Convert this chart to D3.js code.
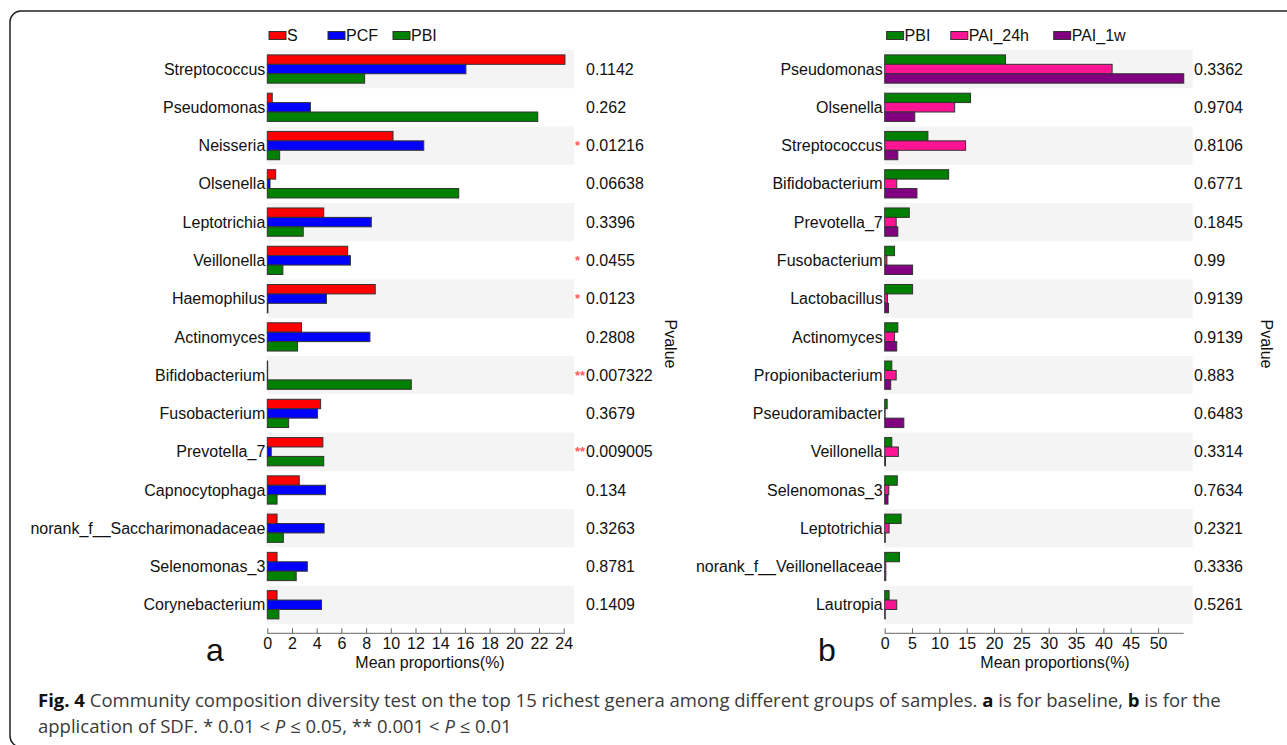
<!DOCTYPE html>
<html>
<head>
<meta charset="utf-8">
<script src="https://cdn.jsdelivr.net/npm/d3@7"></script>
<style>
  body { margin: 0; background: #fff; }
  svg { display: block; }
</style>
</head>
<body>
<svg id="fig" width="1287" height="745"></svg>
<script>
// ---- Panel a: baseline groups ----
const generaA = ["Streptococcus","Pseudomonas","Neisseria","Olsenella","Leptotrichia","Veillonella",
  "Haemophilus","Actinomyces","Bifidobacterium","Fusobacterium","Prevotella_7","Capnocytophaga",
  "norank_f__Saccharimonadaceae","Selenomonas_3","Corynebacterium"];
const seriesA = ["S", "PCF", "PBI"];
const valS    = [24.1, 0.4, 10.18, 0.68, 4.57, 6.51, 8.74, 2.77, 0.03, 4.32, 4.5, 2.59, 0.79, 0.79, 0.79];
const valPCF  = [16.08, 3.49, 12.67, 0.22, 8.42, 6.73, 4.79, 8.31, 0.03, 4.07, 0.32, 4.71, 4.6, 3.24, 4.39];
const valPBIa = [7.88, 21.9, 1.0, 15.5, 2.91, 1.26, 0.05, 2.45, 11.66, 1.73, 4.57, 0.79, 1.3, 2.34, 0.94];
const pvalA   = ["0.1142","0.262","0.01216","0.06638","0.3396","0.0455","0.0123","0.2808",
  "0.007322","0.3679","0.009005","0.134","0.3263","0.8781","0.1409"];
const starsA  = ["","","*","","","*","*","","**","","**","","","",""];
const ticksA  = [0,2,4,6,8,10,12,14,16,18,20,22,24];

// ---- Panel b: after SDF application ----
const generaB = ["Pseudomonas","Olsenella","Streptococcus","Bifidobacterium","Prevotella_7","Fusobacterium",
  "Lactobacillus","Actinomyces","Propionibacterium","Pseudoramibacter","Veillonella","Selenomonas_3",
  "Leptotrichia","norank_f__Veillonellaceae","Lautropia"];
const seriesB = ["PBI", "PAI_24h", "PAI_1w"];
const valPBIb = [22.1, 15.7, 7.9, 11.7, 4.5, 1.8, 5.1, 2.4, 1.3, 0.45, 1.3, 2.3, 3.0, 2.7, 0.8];
const val24h  = [41.6, 12.8, 14.8, 2.2, 2.1, 0.4, 0.5, 1.8, 2.1, 0.08, 2.5, 0.75, 0.8, 0.2, 2.2];
const val1w   = [54.7, 5.5, 2.4, 5.9, 2.4, 5.1, 0.7, 2.2, 1.1, 3.5, 0.15, 0.6, 0.1, 0.2, 0.1];
const pvalB   = ["0.3362","0.9704","0.8106","0.6771","0.1845","0.99","0.9139","0.9139",
  "0.883","0.6483","0.3314","0.7634","0.2321","0.3336","0.5261"];
const starsB  = ["","","","","","","","","","","","","","",""];
const ticksB  = [0,5,10,15,20,25,30,35,40,45,50];

const colorsA = ["#ff0000", "#0000ff", "#008000"];
const colorsB = ["#008000", "#ff1493", "#800080"];

const svg = d3.select("#fig");
const FONT = "'Liberation Sans', Arial, sans-serif";

// rounded frame around the figure (open on the right)
svg.append("rect")
  .attr("x", 10).attr("y", 11).attr("width", 1320).attr("height", 736).attr("rx", 11)
  .attr("fill", "none").attr("stroke", "#222").attr("stroke-width", 1.5);

function panel(opt) {
  const g = svg.append("g");
  const rows = opt.genera.map((name, i) => ({
    name, vals: opt.values.map(v => v[i]), p: opt.pvals[i], star: opt.stars[i], i
  }));
  const maxV = d3.max(opt.values.flat());

  const x = d3.scaleLinear().domain([0, opt.tickMax]).range([opt.x0, opt.x0 + opt.tickMax * opt.pxPerUnit]);
  const y = d3.scaleBand().domain(opt.genera).range([49.9, 623.9]);
  const yi = d3.scaleBand().domain(opt.series).range([5, y.bandwidth() - 5]);
  const bandRight = x(maxV) + 9;

  // alternating row shading
  g.selectAll("rect.band").data(rows.filter(r => r.i % 2 === 0)).join("rect")
    .attr("class", "band")
    .attr("x", x(0)).attr("width", bandRight - x(0))
    .attr("y", r => y(r.name)).attr("height", y.bandwidth())
    .attr("fill", "#f4f4f4");

  // grouped horizontal bars
  const rg = g.selectAll("g.row").data(rows).join("g")
    .attr("class", "row")
    .attr("transform", r => `translate(0,${y(r.name)})`);
  rg.selectAll("rect").data(r => r.vals.map((v, k) => ({ v, k }))).join("rect")
    .attr("x", x(0))
    .attr("y", d => yi(opt.series[d.k]))
    .attr("width", d => x(d.v) - x(0))
    .attr("height", yi.bandwidth())
    .attr("fill", d => opt.colors[d.k])
    .attr("stroke", "#333").attr("stroke-width", 1);

  // genus labels
  g.selectAll("text.genus").data(rows).join("text")
    .attr("class", "genus")
    .attr("x", x(0) - 2).attr("y", r => y(r.name) + y.bandwidth() / 2)
    .attr("dy", "0.35em").attr("text-anchor", "end")
    .style("font", `16px ${FONT}`).attr("fill", "#111")
    .text(r => r.name);

  // p-values and significance marks
  g.selectAll("text.pv").data(rows).join("text")
    .attr("class", "pv")
    .attr("x", opt.pvX).attr("y", r => y(r.name) + y.bandwidth() / 2)
    .attr("dy", "0.35em")
    .style("font", `16px ${FONT}`).attr("fill", "#111")
    .text(r => r.p);
  g.selectAll("text.star").data(rows.filter(r => r.star)).join("text")
    .attr("class", "star")
    .attr("x", opt.pvX - 11).attr("y", r => y(r.name) + y.bandwidth() / 2)
    .attr("dy", "0.35em")
    .style("font", `bold 13px ${FONT}`).attr("fill", "#ff5a5a")
    .text(r => r.star);

  g.append("text")
    .attr("transform", `translate(${opt.pTitleX},344) rotate(90)`)
    .attr("text-anchor", "middle").attr("dy", "0.35em")
    .style("font", `16px ${FONT}`).attr("fill", "#111")
    .text("Pvalue");

  // x axis with upward ticks
  const ax = g.append("g").attr("transform", "translate(0,633.3)")
    .call(d3.axisBottom(x).tickValues(opt.ticks).tickSize(-5).tickSizeOuter(0).tickPadding(4.5));
  ax.select(".domain").attr("d", `M${x(0)},0H${x(maxV)}`).attr("stroke", "#666");
  ax.selectAll(".tick line").attr("stroke", "#666");
  ax.selectAll(".tick text").style("font", `16px ${FONT}`).attr("fill", "#111");

  g.append("text")
    .attr("x", opt.titleX).attr("y", 668).attr("text-anchor", "middle")
    .style("font", `16px ${FONT}`).attr("fill", "#111")
    .text("Mean proportions(%)");

  g.append("text")
    .attr("x", opt.letterX).attr("y", 661).attr("text-anchor", "middle")
    .style("font", `32px ${FONT}`).attr("fill", "#111")
    .text(opt.letter);

  // legend
  const lg = g.selectAll("g.leg").data(opt.series).join("g")
    .attr("class", "leg")
    .attr("transform", (s, k) => `translate(${opt.legendX[k]},0)`);
  lg.append("rect").attr("x", 0).attr("y", 31.5).attr("width", 17).attr("height", 8)
    .attr("fill", (s, k) => opt.colors[k]).attr("stroke", "#333").attr("stroke-width", 1);
  lg.append("text").attr("x", 18).attr("y", 35.5).attr("dy", "0.35em")
    .style("font", `16px ${FONT}`).attr("fill", "#111")
    .text(s => s);
}

panel({
  genera: generaA, series: seriesA, values: [valS, valPCF, valPBIa],
  pvals: pvalA, stars: starsA, ticks: ticksA, tickMax: 24, colors: colorsA,
  x0: 267.3, pxPerUnit: 12.35, pvX: 586, pTitleX: 671, titleX: 430, letterX: 215, letter: "a",
  legendX: [269, 328, 393]
});
panel({
  genera: generaB, series: seriesB, values: [valPBIb, val24h, val1w],
  pvals: pvalB, stars: starsB, ticks: ticksB, tickMax: 50, colors: colorsB,
  x0: 884.7, pxPerUnit: 5.467, pvX: 1194, pTitleX: 1267, titleX: 1055, letterX: 827, letter: "b",
  legendX: [886.6, 950.8, 1053.7]
});

// figure caption, set in a narrow humanist face
const CAP = "'Open Sans', 'Noto Sans', sans-serif";
const capBox = svg.append("g").attr("transform", "translate(38,0)");
const cap = capBox.append("g").style("font-family", CAP).style("font-size", "18px").attr("fill", "#3a3a3a");
const line1 = cap.append("text").attr("x", 0).attr("y", 707);
line1.append("tspan").attr("font-weight", "bold").attr("fill", "#111").text("Fig. 4");
line1.append("tspan").text(" Community composition diversity test on the top 15 richest genera among different groups of samples. ");
line1.append("tspan").attr("font-weight", "bold").attr("fill", "#111").text("a");
line1.append("tspan").text(" is for baseline, ");
line1.append("tspan").attr("font-weight", "bold").attr("fill", "#111").text("b");
line1.append("tspan").text(" is for the");
const line2 = cap.append("text").attr("x", 0).attr("y", 733);
line2.append("tspan").text("application of SDF. * 0.01 < ");
line2.append("tspan").attr("font-style", "italic").text("P");
line2.append("tspan").text(" ≤ 0.05, ** 0.001 < ");
line2.append("tspan").attr("font-style", "italic").text("P");
line2.append("tspan").text(" ≤ 0.01");

// squeeze the caption horizontally so the first line spans the text block
const w = line1.node().getComputedTextLength();
cap.attr("transform", `scale(${(1184 / w).toFixed(4)},1)`);
</script>
</body>
</html>
